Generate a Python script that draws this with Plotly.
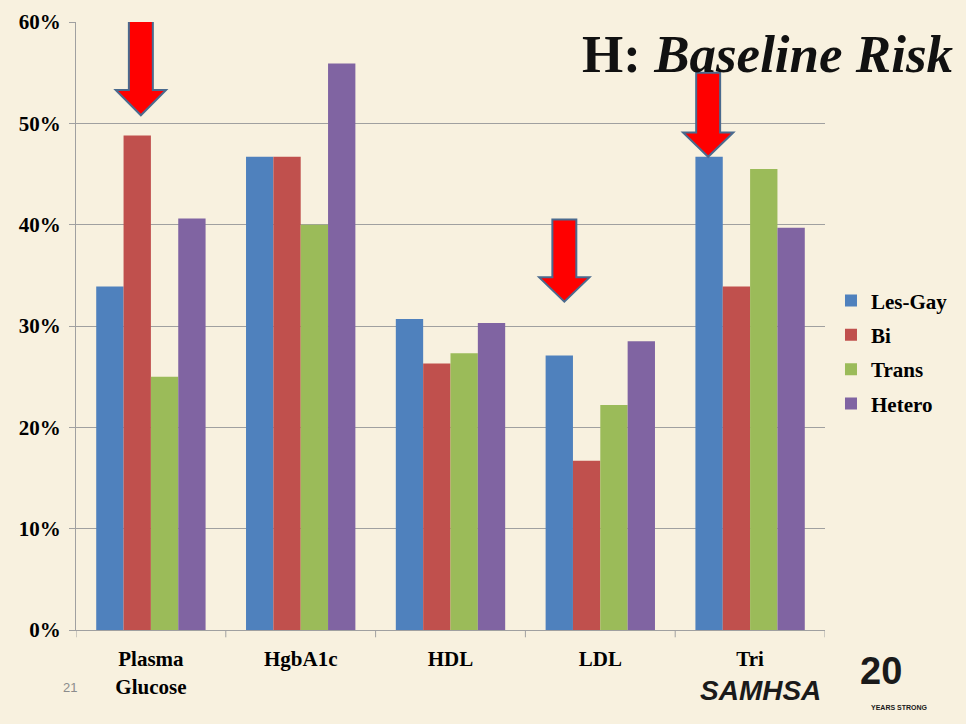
import plotly.graph_objects as go

# Share of each group above the risk threshold, per lab measure
categories = ["Plasma<br>Glucose", "HgbA1c", "HDL", "LDL", "Tri"]
les_gay = [33.9, 46.7, 30.7, 27.1, 46.7]
bi = [48.8, 46.7, 26.3, 16.7, 33.9]
trans = [25.0, 40.0, 27.3, 22.2, 45.5]
hetero = [40.6, 55.9, 30.3, 28.5, 39.7]
y_ticks = [0, 10, 20, 30, 40, 50, 60]

series = [
    ("Les-Gay", les_gay, "#4F81BD"),
    ("Bi", bi, "#C0504D"),
    ("Trans", trans, "#9BBB59"),
    ("Hetero", hetero, "#8064A2"),
]

BG = "#F8F1DF"
FONT = "Liberation Serif"

fig = go.Figure()
for name, vals, color in series:
    fig.add_trace(go.Bar(
        x=list(range(len(categories))), y=vals, name=name, legendgroup=name,
        marker=dict(color=color, line=dict(width=0)),
    ))


def down_arrow(xc, tip, base, top):
    """Block arrow pointing down, x in category units, y in percent."""
    sw, hw = 0.08, 0.168
    return (f"M {xc - sw} {top} L {xc + sw} {top} L {xc + sw} {base} "
            f"L {xc + hw} {base} L {xc} {tip} L {xc - hw} {base} "
            f"L {xc - sw} {base} Z")


# (x in category units, tip, head base, shaft top)
arrows = [(-0.067, 50.8, 53.3, 60.6), (2.76, 32.4, 34.8, 40.5), (3.72, 46.7, 49.1, 55.0)]
for xc, tip, base, top in arrows:
    fig.add_shape(type="path", xref="x", yref="y", path=down_arrow(xc, tip, base, top),
                  fillcolor="#FF0000", line=dict(color="#4A6A8E", width=2), layer="above")

fig.update_layout(
    width=966, height=724,
    paper_bgcolor=BG, plot_bgcolor=BG,
    margin=dict(l=76, r=141, t=22, b=94, autoexpand=False),
    barmode="group", bargap=0.27, bargroupgap=0,
    font=dict(family=FONT, color="#000000"),
    legend=dict(x=1.008, y=0.575, xanchor="left", yanchor="top",
                font=dict(size=21, family=FONT, weight="bold"), tracegroupgap=4,
                itemwidth=30, bgcolor="rgba(0,0,0,0)"),
    xaxis=dict(
        tickmode="array", tickvals=list(range(len(categories))),
        ticktext=[f"<b>{c}</b>" for c in categories],
        range=[-0.5, len(categories) - 0.5],
        tickfont=dict(size=21, family=FONT), showgrid=False,
        showline=True, linecolor="#A0A0A0", linewidth=1,
        ticks="", ticklabelstandoff=10, automargin=False,
        zeroline=False,
    ),
    yaxis=dict(
        range=[0, 60], tickvals=y_ticks,
        ticktext=[f"<b>{v}%</b>" for v in y_ticks],
        tickfont=dict(size=21, family=FONT), ticklabelstandoff=4,
        showgrid=True, gridcolor="#A0A0A0", gridwidth=1,
        showline=True, linecolor="#A0A0A0", linewidth=1,
        ticks="outside", ticklen=6, tickcolor="#A0A0A0",
        zeroline=False, automargin=False,
    ),
    showlegend=True,
)

# Category boundary ticks on the x axis
for i in range(len(categories) + 1):
    fig.add_shape(type="line", xref="x", yref="paper", x0=i - 0.5, x1=i - 0.5,
                  y0=0, y1=-0.012, line=dict(color="#A0A0A0", width=1))

fig.add_annotation(
    text="<b>H: <i>Baseline Risk</i></b>", xref="paper", yref="paper",
    x=1.175, y=0.948, xanchor="right", yanchor="middle", showarrow=False,
    font=dict(size=53, family=FONT, color="#111111"),
)
fig.add_annotation(
    text="21", xref="paper", yref="paper", x=-0.008, y=-0.095,
    xanchor="center", yanchor="middle", showarrow=False,
    font=dict(size=13, family="Liberation Sans", color="#8C8C8C"),
)
fig.add_annotation(
    text="<b><i>SAMHSA</i></b>", xref="paper", yref="paper", x=0.832, y=-0.1,
    xanchor="left", yanchor="middle", showarrow=False, borderpad=0,
    font=dict(size=28, family="Liberation Sans", color="#1A1A1A"),
)
fig.add_annotation(
    text="<b>20</b>", xref="paper", yref="paper", x=1.045, y=-0.068,
    xanchor="left", yanchor="middle", showarrow=False, borderpad=0,
    font=dict(size=38, family="Liberation Sans", color="#1A1A1A"),
)
fig.add_annotation(
    text="<b>YEARS STRONG</b>", xref="paper", yref="paper", x=1.06, y=-0.128,
    xanchor="left", yanchor="middle", showarrow=False, borderpad=0,
    font=dict(size=7, family="Liberation Sans", color="#1A1A1A"),
)

fig.write_html("out.html")
